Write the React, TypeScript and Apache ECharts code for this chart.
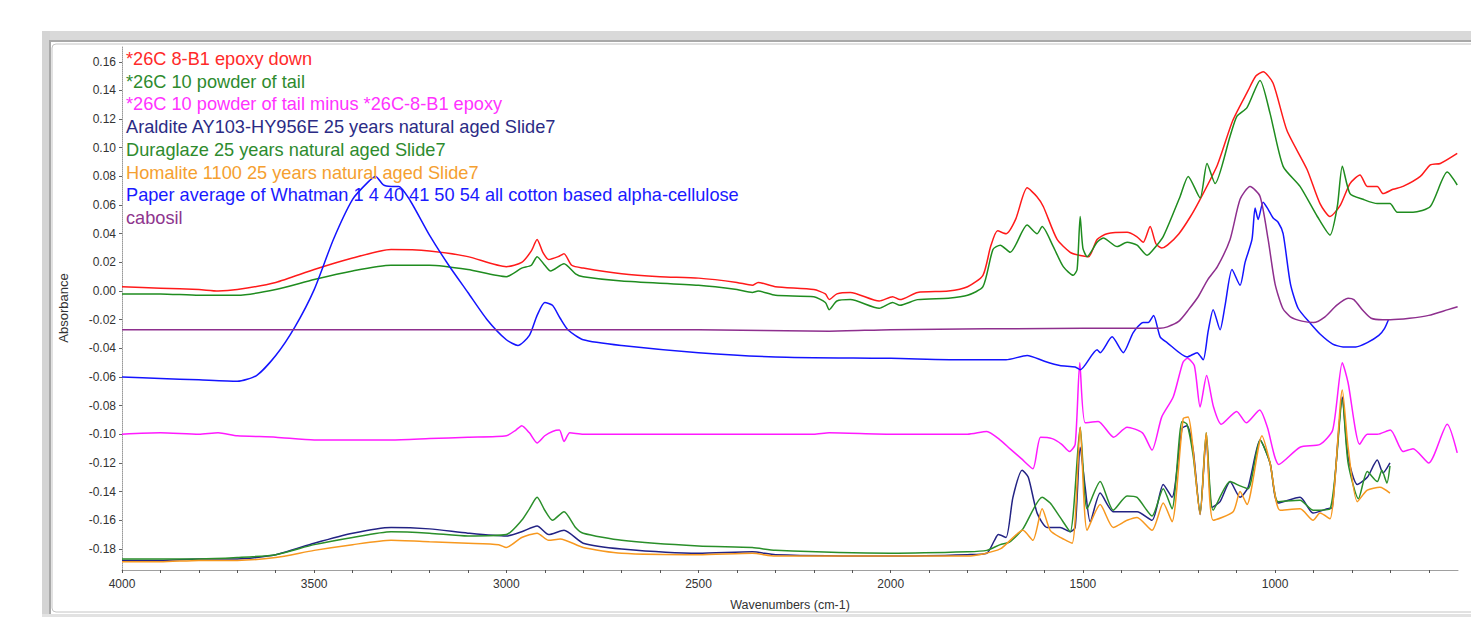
import React, { useEffect, useRef } from "react";
import * as echarts from "echarts";

// ---------- data (wavenumber cm-1, absorbance) ----------
const seriesNames = [
  "*26C 8-B1 epoxy down",
  "*26C 10 powder of tail",
  "*26C 10 powder of tail minus *26C-8-B1 epoxy",
  "Araldite AY103-HY956E 25 years natural aged Slide7",
  "Duraglaze 25 years natural aged Slide7",
  "Homalite 1100 25 years natural aged Slide7",
  "Paper average of Whatman 1 4 40 41 50 54 all cotton based alpha-cellulose",
  "cabosil",
];
const seriesColors = ["#ff1a1a", "#1f8c1f", "#ff1aff", "#232384", "#2a8f2a", "#f7981f", "#1414ff", "#8e2f8e"];
const legendColors = ["#ff2a2a", "#2e8b2e", "#ff33ff", "#2b2b85", "#2e8b2e", "#f5a030", "#1a1aff", "#8e358e"];

const xLabelValues = [4000, 3500, 3000, 2500, 2000, 1500, 1000];
const xTickValues = [4000, 3900, 3800, 3700, 3600, 3500, 3400, 3300, 3200, 3100, 3000, 2900, 2800, 2700, 2600, 2500, 2400, 2300, 2200, 2100, 2000, 1900, 1800, 1700, 1600, 1500, 1400, 1300, 1200, 1100, 1000, 900, 800, 700, 600];
const yLabelValues = [-0.18, -0.16, -0.14, -0.12, -0.1, -0.08, -0.06, -0.04, -0.02, 0, 0.02, 0.04, 0.06, 0.08, 0.1, 0.12, 0.14, 0.16];

const epoxyDown: [number, number][] = [
  [4000, 0.003], [3900, 0.002], [3800, 0.001], [3750, 0.0], [3700, 0.001], [3600, 0.006], [3500, 0.015], [3400, 0.023],
  [3300, 0.029], [3200, 0.028], [3100, 0.024], [3000, 0.017], [2960, 0.02], [2935, 0.028], [2920, 0.036], [2905, 0.027],
  [2890, 0.022], [2865, 0.024], [2850, 0.026], [2830, 0.018], [2800, 0.016], [2700, 0.012], [2600, 0.01], [2500, 0.009],
  [2400, 0.006], [2360, 0.004], [2345, 0.006], [2300, 0.003], [2200, 0.001], [2170, -0.002], [2160, -0.006], [2140, -0.002],
  [2105, -0.001], [2030, -0.007], [1995, -0.004], [1976, -0.006], [1930, -0.001], [1850, 0.0], [1800, 0.003], [1760, 0.011],
  [1740, 0.031], [1722, 0.042], [1700, 0.04], [1675, 0.05], [1645, 0.072], [1620, 0.066], [1603, 0.059], [1567, 0.036],
  [1533, 0.027], [1510, 0.025], [1485, 0.024], [1463, 0.036], [1437, 0.04], [1385, 0.041], [1360, 0.038], [1343, 0.034],
  [1325, 0.045], [1310, 0.033], [1295, 0.03], [1280, 0.032], [1250, 0.04], [1220, 0.052], [1195, 0.064], [1150, 0.088],
  [1110, 0.119], [1070, 0.14], [1050, 0.15], [1031, 0.153], [1005, 0.145], [969, 0.112], [917, 0.085], [883, 0.061],
  [857, 0.052], [830, 0.06], [805, 0.075], [779, 0.081], [760, 0.073], [734, 0.073], [719, 0.068], [693, 0.071],
  [667, 0.073], [622, 0.08], [596, 0.088], [570, 0.089], [526, 0.096],
];

const powderOfTail: [number, number][] = [
  [4000, -0.002], [3900, -0.002], [3800, -0.003], [3700, -0.003], [3600, 0.001], [3500, 0.008], [3400, 0.014], [3300, 0.018],
  [3200, 0.018], [3100, 0.015], [3000, 0.01], [2960, 0.016], [2935, 0.018], [2920, 0.024], [2900, 0.018], [2885, 0.014],
  [2850, 0.019], [2820, 0.012], [2800, 0.01], [2700, 0.007], [2500, 0.004], [2400, 0.001], [2360, -0.001], [2345, 0.0],
  [2300, -0.003], [2200, -0.004], [2170, -0.008], [2160, -0.013], [2140, -0.007], [2105, -0.006], [2030, -0.012], [1995, -0.008],
  [1976, -0.01], [1930, -0.006], [1850, -0.005], [1800, -0.003], [1760, 0.003], [1734, 0.029], [1715, 0.032], [1689, 0.027],
  [1645, 0.046], [1619, 0.04], [1606, 0.045], [1577, 0.031], [1551, 0.017], [1525, 0.011], [1515, 0.015], [1507, 0.052],
  [1500, 0.03], [1489, 0.024], [1463, 0.034], [1447, 0.037], [1411, 0.031], [1385, 0.034], [1359, 0.032], [1333, 0.025],
  [1320, 0.028], [1291, 0.038], [1247, 0.066], [1226, 0.08], [1195, 0.065], [1177, 0.089], [1156, 0.075], [1117, 0.108],
  [1099, 0.122], [1073, 0.128], [1039, 0.147], [1013, 0.124], [979, 0.087], [935, 0.073], [890, 0.052], [857, 0.039],
  [838, 0.059], [825, 0.087], [805, 0.068], [771, 0.064], [734, 0.061], [701, 0.061], [682, 0.055], [641, 0.055],
  [596, 0.059], [552, 0.083], [526, 0.074],
];

const tailMinusEpoxy: [number, number][] = [
  [4000, -0.1], [3900, -0.099], [3800, -0.1], [3750, -0.099], [3700, -0.101], [3600, -0.102], [3500, -0.104], [3400, -0.104],
  [3300, -0.104], [3200, -0.103], [3100, -0.102], [3000, -0.101], [2975, -0.097], [2960, -0.094], [2940, -0.099], [2920, -0.106],
  [2900, -0.101], [2880, -0.098], [2862, -0.097], [2850, -0.105], [2835, -0.099], [2800, -0.1], [2500, -0.1], [2200, -0.1],
  [2160, -0.099], [2000, -0.1], [1800, -0.1], [1750, -0.098], [1715, -0.104], [1690, -0.11], [1660, -0.117], [1630, -0.124],
  [1610, -0.102], [1580, -0.103], [1555, -0.107], [1535, -0.112], [1520, -0.107], [1508, -0.05], [1494, -0.092], [1460, -0.091],
  [1420, -0.102], [1385, -0.095], [1345, -0.099], [1320, -0.111], [1295, -0.088], [1265, -0.074], [1240, -0.05], [1228, -0.047],
  [1210, -0.052], [1195, -0.081], [1178, -0.059], [1160, -0.081], [1140, -0.093], [1100, -0.084], [1075, -0.092], [1040, -0.083],
  [1020, -0.095], [990, -0.121], [935, -0.109], [883, -0.107], [850, -0.097], [825, -0.05], [810, -0.064], [780, -0.107],
  [760, -0.1], [734, -0.1], [700, -0.097], [667, -0.112], [641, -0.11], [600, -0.12], [552, -0.093], [526, -0.113],
];

const araldite: [number, number][] = [
  [4000, -0.188], [3900, -0.188], [3800, -0.187], [3700, -0.187], [3600, -0.184], [3500, -0.176], [3400, -0.169], [3300, -0.165],
  [3200, -0.166], [3100, -0.169], [3000, -0.171], [2960, -0.168], [2920, -0.164], [2890, -0.17], [2850, -0.167], [2800, -0.176],
  [2700, -0.18], [2500, -0.183], [2360, -0.182], [2300, -0.184], [2000, -0.185], [1800, -0.184], [1750, -0.183], [1730, -0.174],
  [1720, -0.17], [1700, -0.172], [1682, -0.144], [1658, -0.125], [1642, -0.13], [1619, -0.155], [1593, -0.165], [1559, -0.165],
  [1533, -0.168], [1520, -0.165], [1507, -0.109], [1494, -0.137], [1481, -0.161], [1455, -0.141], [1421, -0.154], [1385, -0.154],
  [1359, -0.154], [1320, -0.16], [1291, -0.135], [1268, -0.144], [1242, -0.096], [1229, -0.094], [1213, -0.111], [1195, -0.156],
  [1179, -0.102], [1164, -0.151], [1143, -0.147], [1117, -0.133], [1091, -0.144], [1070, -0.137], [1039, -0.104], [1013, -0.12],
  [992, -0.148], [935, -0.144], [901, -0.155], [864, -0.152], [851, -0.151], [825, -0.074], [810, -0.116], [786, -0.135],
  [760, -0.13], [734, -0.118], [719, -0.127], [701, -0.12],
];

const duraglaze: [number, number][] = [
  [4000, -0.187], [3900, -0.187], [3800, -0.187], [3700, -0.186], [3600, -0.184], [3500, -0.177], [3400, -0.172], [3300, -0.168],
  [3200, -0.169], [3100, -0.171], [3000, -0.17], [2960, -0.16], [2940, -0.152], [2920, -0.144], [2900, -0.153], [2880, -0.16],
  [2850, -0.154], [2820, -0.165], [2800, -0.169], [2700, -0.174], [2500, -0.178], [2360, -0.179], [2300, -0.181], [2000, -0.183],
  [1800, -0.182], [1750, -0.181], [1715, -0.177], [1690, -0.175], [1656, -0.166], [1606, -0.144], [1585, -0.148], [1559, -0.158],
  [1533, -0.168], [1507, -0.095], [1489, -0.152], [1455, -0.133], [1421, -0.153], [1385, -0.143], [1359, -0.144], [1320, -0.157],
  [1291, -0.138], [1268, -0.152], [1242, -0.091], [1229, -0.093], [1213, -0.115], [1195, -0.155], [1179, -0.099], [1161, -0.153],
  [1117, -0.133], [1091, -0.136], [1070, -0.138], [1039, -0.104], [1013, -0.12], [992, -0.147], [935, -0.146], [901, -0.153],
  [857, -0.152], [825, -0.076], [810, -0.12], [783, -0.145], [760, -0.126], [734, -0.133], [722, -0.125], [709, -0.134],
  [701, -0.122],
];

const homalite: [number, number][] = [
  [4000, -0.189], [3900, -0.189], [3800, -0.188], [3700, -0.188], [3600, -0.186], [3500, -0.181], [3400, -0.177], [3300, -0.174],
  [3200, -0.175], [3100, -0.176], [3020, -0.177], [3000, -0.179], [2960, -0.172], [2920, -0.169], [2890, -0.174], [2860, -0.173],
  [2800, -0.179], [2700, -0.183], [2500, -0.184], [2360, -0.183], [2300, -0.185], [2000, -0.185], [1800, -0.185], [1715, -0.18],
  [1656, -0.167], [1630, -0.174], [1606, -0.152], [1585, -0.167], [1559, -0.172], [1528, -0.176], [1507, -0.095], [1489, -0.167],
  [1455, -0.149], [1421, -0.165], [1385, -0.16], [1359, -0.158], [1320, -0.167], [1291, -0.148], [1268, -0.161], [1239, -0.089],
  [1226, -0.088], [1195, -0.156], [1179, -0.099], [1161, -0.16], [1109, -0.154], [1091, -0.14], [1073, -0.149], [1034, -0.101],
  [1013, -0.12], [987, -0.153], [935, -0.152], [901, -0.16], [883, -0.155], [857, -0.159], [825, -0.069], [810, -0.109],
  [786, -0.147], [760, -0.139], [727, -0.137], [701, -0.141],
];

const paperWhatman: [number, number][] = [
  [4000, -0.06], [3900, -0.061], [3800, -0.062], [3700, -0.063], [3650, -0.059], [3600, -0.045], [3550, -0.025], [3500, 0.001],
  [3450, 0.036], [3400, 0.064], [3360, 0.076], [3340, 0.08], [3320, 0.074], [3300, 0.073], [3280, 0.073], [3250, 0.063],
  [3200, 0.039], [3150, 0.018], [3100, -0.001], [3050, -0.02], [3000, -0.034], [2970, -0.038], [2940, -0.031], [2920, -0.017],
  [2900, -0.008], [2880, -0.01], [2860, -0.019], [2840, -0.027], [2800, -0.034], [2700, -0.038], [2500, -0.043], [2300, -0.046],
  [2000, -0.047], [1800, -0.048], [1700, -0.048], [1645, -0.045], [1600, -0.049], [1560, -0.052], [1520, -0.053], [1507, -0.055],
  [1463, -0.041], [1455, -0.043], [1424, -0.032], [1395, -0.043], [1369, -0.029], [1343, -0.022], [1330, -0.022], [1316, -0.017],
  [1299, -0.032], [1281, -0.036], [1229, -0.046], [1203, -0.043], [1187, -0.048], [1174, -0.028], [1161, -0.013], [1143, -0.027],
  [1130, -0.01], [1112, 0.015], [1091, 0.004], [1078, 0.02], [1060, 0.036], [1052, 0.058], [1044, 0.05], [1031, 0.062],
  [1018, 0.057], [1005, 0.051], [992, 0.048], [979, 0.04], [960, 0.005], [940, -0.012], [910, -0.022], [883, -0.03],
  [850, -0.037], [823, -0.039], [790, -0.039], [760, -0.036], [730, -0.031], [715, -0.026], [705, -0.02],
];

const cabosil: [number, number][] = [
  [4000, -0.027], [3500, -0.027], [3000, -0.027], [2500, -0.027], [2160, -0.028], [2000, -0.027], [1500, -0.026], [1400, -0.026],
  [1300, -0.026], [1280, -0.025], [1250, -0.021], [1225, -0.013], [1200, -0.004], [1175, 0.008], [1150, 0.017], [1117, 0.036],
  [1091, 0.064], [1065, 0.073], [1039, 0.066], [1018, 0.036], [1000, 0.005], [980, -0.012], [960, -0.018], [930, -0.021],
  [900, -0.022], [870, -0.018], [840, -0.01], [810, -0.005], [795, -0.006], [770, -0.014], [750, -0.019], [720, -0.02],
  [700, -0.02], [650, -0.019], [600, -0.017], [550, -0.013], [525, -0.011],
];

const allData = [epoxyDown, powderOfTail, tailMinusEpoxy, araldite, duraglaze, homalite, paperWhatman, cabosil];

const FONT = "'Liberation Sans', Arial, sans-serif";

export default function App() {
  const ref = useRef<HTMLDivElement>(null);
  useEffect(() => {
    if (!ref.current) return;
    const chart = echarts.init(ref.current, null, { renderer: "svg" });
    chart.setOption({
      animation: false,
      backgroundColor: "#ffffff",
      textStyle: { fontFamily: FONT },
      graphic: [
        { type: "rect", shape: { x: 42, y: 31, width: 1429, height: 10 }, style: { fill: "#d9d9d9" }, silent: true },
        { type: "rect", shape: { x: 42, y: 40, width: 1429, height: 2 }, style: { fill: "#a8a8a8" }, silent: true },
        { type: "rect", shape: { x: 42, y: 31, width: 8, height: 584 }, style: { fill: "#d4d4d4" }, silent: true },
        { type: "rect", shape: { x: 49, y: 40, width: 2, height: 575 }, style: { fill: "#a8a8a8" }, silent: true },
        { type: "rect", shape: { x: 42, y: 614, width: 1429, height: 3 }, style: { fill: "#e2e2e2" }, silent: true },
        { type: "rect", shape: { x: 52, y: 44, width: 1430, height: 568, r: 4 }, style: { fill: "none", stroke: "#c4c4c4", lineWidth: 1 }, silent: true },
      ],
      legend: {
        orient: "vertical",
        left: 121,
        top: 49,
        padding: 0,
        icon: "none",
        itemWidth: 0,
        itemHeight: 20,
        itemGap: 2.7,
        selectedMode: false,
        textStyle: { fontSize: 18.2, fontFamily: FONT, lineHeight: 20 },
        data: seriesNames.map((n, i) => ({ name: n, textStyle: { color: legendColors[i] } })),
      },
      grid: { left: 122, right: 13, top: 46, bottom: 47 },
      xAxis: {
        type: "value",
        inverse: true,
        min: 524,
        max: 4000,
        name: "Wavenumbers (cm-1)",
        nameLocation: "middle",
        nameGap: 28,
        nameTextStyle: { fontSize: 12.5, color: "#333", fontFamily: FONT },
        axisLine: { show: true, onZero: false, lineStyle: { color: "#a0a0a0", width: 1 } },
        axisTick: { show: true, length: 3, customValues: xTickValues, lineStyle: { color: "#555" } },
        axisLabel: {
          customValues: xLabelValues,
          fontSize: 12,
          color: "#333",
          margin: 8,
          fontFamily: FONT,
          formatter: (v: number) => String(v),
        },
        splitLine: { show: false },
      },
      yAxis: {
        type: "value",
        min: -0.1947,
        max: 0.171,
        name: "Absorbance",
        nameLocation: "middle",
        nameGap: 52,
        nameTextStyle: { fontSize: 13, color: "#333", fontFamily: FONT },
        axisLine: { show: true, onZero: false, lineStyle: { color: "#999", type: "dotted", width: 1 } },
        axisTick: { show: true, length: 3, customValues: yLabelValues, lineStyle: { color: "#666" } },
        axisLabel: {
          customValues: yLabelValues,
          fontSize: 12,
          color: "#333",
          margin: 6,
          fontFamily: FONT,
          formatter: (v: number) => v.toFixed(2),
        },
        splitLine: { show: false },
      },
      series: seriesNames.map((name, i) => ({
        name,
        type: "line",
        data: allData[i],
        showSymbol: false,
        symbol: "none",
        clip: true,
        smooth: 0.22,
        color: seriesColors[i],
        lineStyle: { color: seriesColors[i], width: 1.5 },
      })),
    });
    return () => chart.dispose();
  }, []);
  return (
    <div
      ref={ref}
      style={{ position: "absolute", left: 0, top: 0, width: 1471, height: 617, background: "#fff" }}
    />
  );
}
